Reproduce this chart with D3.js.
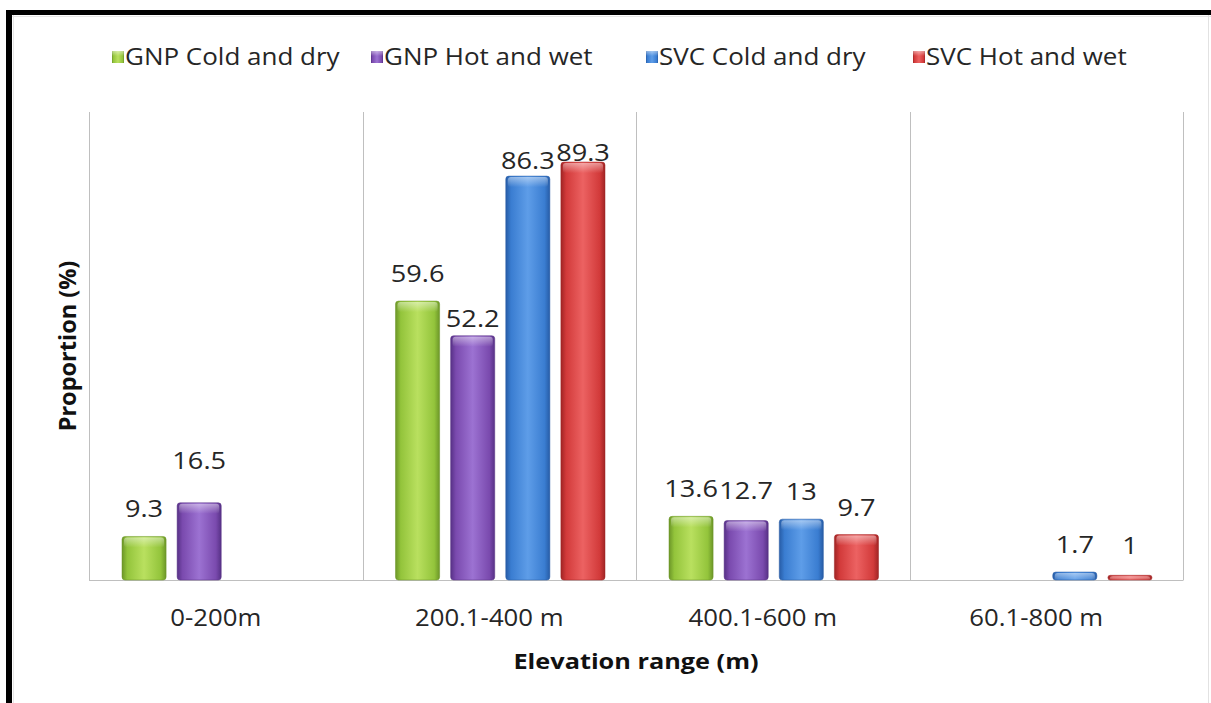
<!DOCTYPE html>
<html><head><meta charset="utf-8">
<script src="https://cdn.jsdelivr.net/npm/d3@7"></script>
<style>html,body{margin:0;padding:0;background:#fff;}svg{display:block;}</style>
</head><body><svg id="c" width="1211" height="703"></svg>
<script>
// ---- data ----
const categories = ["0-200m", "200.1-400 m", "400.1-600 m", "60.1-800 m"];
const seriesNames = ["GNP Cold and dry", "GNP Hot and wet", "SVC Cold and dry", "SVC Hot and wet"];
const gnpColdDry = [9.3, 59.6, 13.6, null];
const gnpHotWet  = [16.5, 52.2, 12.7, null];
const svcColdDry = [null, 86.3, 13, 1.7];
const svcHotWet  = [null, 89.3, 9.7, 1];
const labelText = [["9.3","59.6","13.6",""],["16.5","52.2","12.7",""],["","86.3","13","1.7"],["","89.3","9.7","1"]];
// style: per-label vertical nudge (px), mimicking manually moved labels
const labelNudge = [[0,0,0,0],[-15,10,-3,0],[0,12,0,0],[0,18,0,-2]];
const colors = [
  {base:"#93c43b", light:"#b9e05f", dark:"#6c9628"},
  {base:"#7a4aae", light:"#9c72d2", dark:"#573186"},
  {base:"#3a7dd1", light:"#5e9de8", dark:"#275ca6"},
  {base:"#d23a3a", light:"#ec6262", dark:"#a02424"}
];
const values = [gnpColdDry, gnpHotWet, svcColdDry, svcHotWet];

const svg = d3.select("#c");
const FONT = "'Open Sans', 'DejaVu Sans', sans-serif";

function stext(parent, x, y, str, opts) {
  const t = parent.append("text")
    .attr("transform", `translate(${x},${y}) scale(${opts.sx||1},1)`)
    .attr("text-anchor", opts.anchor || "start")
    .attr("font-family", FONT).attr("font-size", opts.size)
    .attr("font-weight", opts.weight || "normal")
    .attr("fill", opts.fill || "#262626").text(str);
  return t;
}

// outer frame
svg.append("rect").attr("x",6).attr("y",10).attr("width",6).attr("height",693).attr("fill","#000");
svg.append("rect").attr("x",6).attr("y",10).attr("width",1205).attr("height",5).attr("fill","#000");
svg.append("line").attr("x1",12).attr("x2",1211).attr("y1",16.5).attr("y2",16.5).attr("stroke","#e6e6e6");
svg.append("line").attr("x1",13.5).attr("x2",13.5).attr("y1",15).attr("y2",703).attr("stroke","#e6e6e6");
svg.append("line").attr("x1",1208.5).attr("x2",1208.5).attr("y1",15).attr("y2",703).attr("stroke","#e2e2e2");

// defs: gradients
const defs = svg.append("defs");
colors.forEach((c,i)=>{
  const g = defs.append("linearGradient").attr("id","g"+i).attr("x1","0").attr("x2","1").attr("y1","0").attr("y2","0");
  [[0,c.dark],[0.12,c.base],[0.5,c.light],[0.88,c.base],[1,c.dark]].forEach(s=>g.append("stop").attr("offset",s[0]).attr("stop-color",s[1]));
  const t = defs.append("linearGradient").attr("id","t"+i).attr("x1","0").attr("x2","0").attr("y1","0").attr("y2","1");
  t.append("stop").attr("offset",0).attr("stop-color","#fff").attr("stop-opacity",0.45);
  t.append("stop").attr("offset",1).attr("stop-color","#fff").attr("stop-opacity",0);
});

// plot area
const L = 89, R = 1183, T = 112, B = 580;
const x0 = d3.scaleBand().domain(categories).range([L, R]).padding(0);
const x1 = d3.scaleBand().domain(seriesNames).range([33, x0.bandwidth()-31]).paddingInner(0.2).paddingOuter(0);
const y = d3.scaleLinear().domain([0, 100]).range([B, T]);

const grid = svg.append("g").attr("stroke","#bfbfbf").attr("stroke-width",1);
const edges = categories.map(c=>x0(c)).concat([R]);
edges.forEach(e=>grid.append("line").attr("x1",Math.round(e)+0.5).attr("x2",Math.round(e)+0.5).attr("y1",T).attr("y2",B+0.5));
grid.append("line").attr("x1",L).attr("x2",R).attr("y1",B+0.5).attr("y2",B+0.5);

// bars
const labels = svg.append("g");
seriesNames.forEach((s,si)=>{
  const g = svg.append("g");
  categories.forEach((c,ci)=>{
    const v = values[si][ci];
    if (v === null) return;
    const bx = x0(c) + x1(s), bw = x1.bandwidth(), by = y(v), bh = B - y(v);
    g.append("rect").attr("x",bx).attr("y",by).attr("width",bw).attr("height",bh).attr("rx",Math.min(3,bh/2)).attr("fill","url(#g"+si+")");
    const th = Math.min(10, bh);
    g.append("rect").attr("x",bx+2).attr("y",by+1).attr("width",bw-4).attr("height",th).attr("rx",3).attr("fill","url(#t"+si+")");
    g.append("rect").attr("x",bx).attr("y",by).attr("width",bw).attr("height",bh).attr("rx",Math.min(3,bh/2)).attr("fill","none").attr("stroke",colors[si].dark).attr("stroke-opacity",0.5);
    const lt = labelText[si][ci];
    if (lt) stext(labels, bx+bw/2, by - 19 + labelNudge[si][ci], lt, {anchor:"middle", size:23, sx:1.18});
  });
});

// category labels
categories.forEach(c=>{
  stext(svg, x0(c)+x0.bandwidth()/2 - 10, 626, c, {anchor:"middle", size:23, sx:1.12});
});
// axis titles
stext(svg, (L+R)/2, 669, "Elevation range (m)", {anchor:"middle", size:22, sx:1.15, weight:"bold", fill:"#111"});
svg.append("text").attr("transform","translate(76,"+((T+B)/2)+") rotate(-90)").attr("text-anchor","middle").attr("font-family",FONT)
  .attr("font-size",23.5).attr("font-weight","bold").attr("fill","#111").text("Proportion (%)");

// legend
const leg = svg.append("g");
const lxs = d3.scalePoint().domain(seriesNames).range([112, 913]);
seriesNames.forEach((s,i)=>{
  const lx = lxs(s) + (i === 1 ? -8 : 0);
  leg.append("rect").attr("x",lx).attr("y",51).attr("width",12).attr("height",12).attr("fill","url(#g"+i+")");
  leg.append("rect").attr("x",lx).attr("y",51).attr("width",12).attr("height",5).attr("fill","url(#t"+i+")");
  stext(leg, lx+13, 65, s, {size:23, sx:1.13});
});
</script></body></html>
